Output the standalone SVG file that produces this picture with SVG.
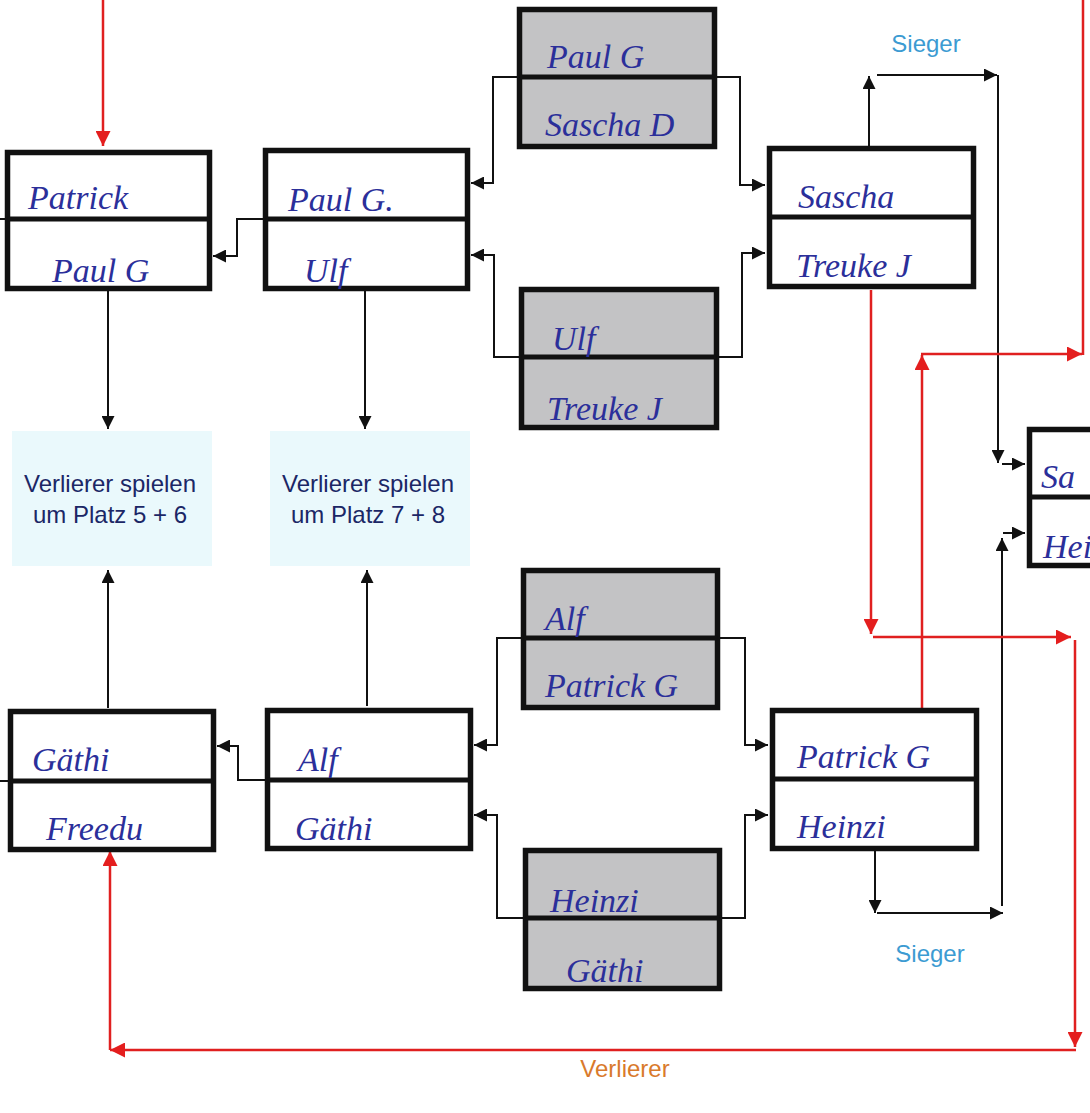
<svg xmlns="http://www.w3.org/2000/svg" width="1090" height="1113" viewBox="0 0 1090 1113">
<style>
.box{fill:#ffffff;stroke:#111;stroke-width:5.5}
.gbox{fill:#c3c3c5;stroke:#111;stroke-width:5.5}
.div{stroke:#111;stroke-width:5}
.hw{font-family:"Liberation Serif",serif;font-style:italic;font-size:34px;fill:#2b2f9a}
.info{fill:#eaf9fc}
.infot{font-family:"Liberation Sans",Arial,sans-serif;font-size:24px;fill:#1b2766;text-anchor:middle}
.sieger{font-family:"Liberation Sans",Arial,sans-serif;font-size:24px;fill:#3c9bd2;text-anchor:middle}
.verl{font-family:"Liberation Sans",Arial,sans-serif;font-size:24px;fill:#d97a2c;text-anchor:middle}
.blk{fill:none;stroke:#111;stroke-width:2}
.red{fill:none;stroke:#e02020;stroke-width:2.5}
</style>
<defs>
<marker id="ab" viewBox="0 0 10 10" refX="10" refY="5" markerWidth="15" markerHeight="13" markerUnits="userSpaceOnUse" orient="auto"><path d="M0,0L10,5L0,10z" fill="#111"/></marker>
<marker id="ar" viewBox="0 0 10 10" refX="10" refY="5" markerWidth="16" markerHeight="15" markerUnits="userSpaceOnUse" orient="auto"><path d="M0,0L10,5L0,10z" fill="#e41e1e"/></marker>
</defs>
<rect width="1090" height="1113" fill="#ffffff"/>

<g id="connectors">
<path class="blk" d="M0,219H5"/>
<path class="blk" d="M0,781H8"/>
<path class="blk" d="M263,219H237V256H213" marker-end="url(#ab)"/>
<path class="blk" d="M517,77H493V183H471" marker-end="url(#ab)"/>
<path class="blk" d="M716,77H740V185H765" marker-end="url(#ab)"/>
<path class="blk" d="M519,357H494V255H471" marker-end="url(#ab)"/>
<path class="blk" d="M718,357H742V253H765" marker-end="url(#ab)"/>
<path class="blk" d="M869,146V76" marker-end="url(#ab)"/>
<path class="blk" d="M877,75H997" marker-end="url(#ab)"/>
<path class="blk" d="M998,75V463" marker-end="url(#ab)"/>
<path class="blk" d="M1002,464H1025" marker-end="url(#ab)"/>
<path class="blk" d="M108,291V429" marker-end="url(#ab)"/>
<path class="blk" d="M365,291V429" marker-end="url(#ab)"/>
<path class="blk" d="M108,708V570" marker-end="url(#ab)"/>
<path class="blk" d="M367,706V570" marker-end="url(#ab)"/>
<path class="blk" d="M265,780H238V746H217" marker-end="url(#ab)"/>
<path class="blk" d="M521,638H497V745H474" marker-end="url(#ab)"/>
<path class="blk" d="M718,638H745V745H768" marker-end="url(#ab)"/>
<path class="blk" d="M523,918H497V815H474" marker-end="url(#ab)"/>
<path class="blk" d="M720,918H745V815H768" marker-end="url(#ab)"/>
<path class="blk" d="M875,850V913" marker-end="url(#ab)"/>
<path class="blk" d="M877,913H1003" marker-end="url(#ab)"/>
<path class="blk" d="M1002,906V538" marker-end="url(#ab)"/>
<path class="blk" d="M1003,533H1025" marker-end="url(#ab)"/>

<path class="red" d="M103,0V146" marker-end="url(#ar)"/>
<path class="red" d="M871,290V634" marker-end="url(#ar)"/>
<path class="red" d="M873,637H1071" marker-end="url(#ar)"/>
<path class="red" d="M1075,640V1047" marker-end="url(#ar)"/>
<path class="red" d="M1076,1050H110" marker-end="url(#ar)"/>
<path class="red" d="M110,1050V851" marker-end="url(#ar)"/>
<path class="red" d="M922,708V355" marker-end="url(#ar)"/>
<path class="red" d="M921,354H1082" marker-end="url(#ar)"/>
<path class="red" d="M1083,0V355"/>
</g>

<g id="info-5-6">
<rect class="info" x="12" y="431" width="200" height="135"/>
<text class="infot" x="110" y="492">Verlierer spielen</text>
<text class="infot" x="110" y="523">um Platz 5 + 6</text>
</g>
<g id="info-7-8">
<rect class="info" x="270" y="431" width="200" height="135"/>
<text class="infot" x="368" y="492">Verlierer spielen</text>
<text class="infot" x="368" y="523">um Platz 7 + 8</text>
</g>

<g id="match-patrick-paul">
<rect class="box" x="7.5" y="152.5" width="202" height="136"/>
<line class="div" x1="7.5" y1="219" x2="209.5" y2="219"/>
<text class="hw" x="28" y="209">Patrick</text>
<text class="hw" x="52" y="282">Paul G</text>
</g>
<g id="match-paul-ulf">
<rect class="box" x="265.5" y="150.5" width="202" height="138"/>
<line class="div" x1="265.5" y1="219" x2="467.5" y2="219"/>
<text class="hw" x="288" y="211">Paul G.</text>
<text class="hw" x="304" y="282">Ulf</text>
</g>
<g id="seed-paul-sascha">
<rect class="gbox" x="519.5" y="9.5" width="195" height="137"/>
<line class="div" x1="519.5" y1="77" x2="714.5" y2="77"/>
<text class="hw" x="547" y="68">Paul G</text>
<text class="hw" x="545" y="136">Sascha D</text>
</g>
<g id="seed-ulf-treuke">
<rect class="gbox" x="521.5" y="289.5" width="195" height="138"/>
<line class="div" x1="521.5" y1="357" x2="716.5" y2="357"/>
<text class="hw" x="552" y="350">Ulf</text>
<text class="hw" x="547" y="420">Treuke J</text>
</g>
<g id="match-sascha-treuke">
<rect class="box" x="769.5" y="148.5" width="204" height="138"/>
<line class="div" x1="769.5" y1="217" x2="973.5" y2="217"/>
<text class="hw" x="798" y="208">Sascha</text>
<text class="hw" x="796" y="277">Treuke J</text>
</g>
<g id="final">
<rect class="box" x="1029.5" y="429.5" width="80" height="136"/>
<line class="div" x1="1029.5" y1="497" x2="1109.5" y2="497"/>
<text class="hw" x="1041" y="488">Sa</text>
<text class="hw" x="1043" y="558">Hei</text>
</g>

<g id="match-gaethi-freedu">
<rect class="box" x="10.5" y="711.5" width="203" height="138"/>
<line class="div" x1="10.5" y1="781" x2="213.5" y2="781"/>
<text class="hw" x="32" y="771">Gäthi</text>
<text class="hw" x="46" y="840">Freedu</text>
</g>
<g id="match-alf-gaethi">
<rect class="box" x="267.5" y="710.5" width="203" height="138"/>
<line class="div" x1="267.5" y1="780" x2="470.5" y2="780"/>
<text class="hw" x="298" y="771">Alf</text>
<text class="hw" x="295" y="840">Gäthi</text>
</g>
<g id="seed-alf-patrick">
<rect class="gbox" x="523.5" y="570.5" width="194" height="137"/>
<line class="div" x1="523.5" y1="638" x2="717.5" y2="638"/>
<text class="hw" x="545" y="630">Alf</text>
<text class="hw" x="545" y="697">Patrick G</text>
</g>
<g id="seed-heinzi-gaethi">
<rect class="gbox" x="525.5" y="850.5" width="194" height="138"/>
<line class="div" x1="525.5" y1="918" x2="719.5" y2="918"/>
<text class="hw" x="550" y="912">Heinzi</text>
<text class="hw" x="566" y="982">Gäthi</text>
</g>
<g id="match-patrick-heinzi">
<rect class="box" x="772.5" y="710.5" width="204" height="138"/>
<line class="div" x1="772.5" y1="779" x2="976.5" y2="779"/>
<text class="hw" x="797" y="768">Patrick G</text>
<text class="hw" x="797" y="838">Heinzi</text>
</g>

<text class="sieger" x="926" y="52">Sieger</text>
<text class="sieger" x="930" y="962">Sieger</text>
<text class="verl" x="625" y="1077">Verlierer</text>
</svg>
